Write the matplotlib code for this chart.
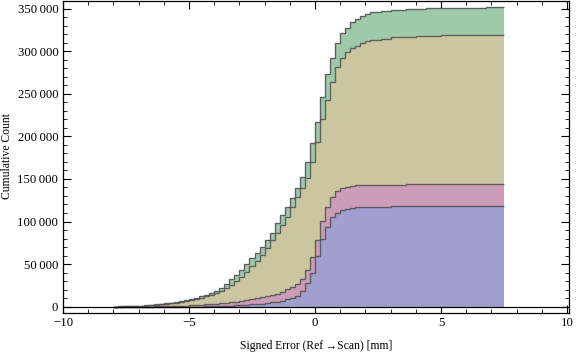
import numpy as np
import matplotlib
matplotlib.use("Agg")
import matplotlib.pyplot as plt
from matplotlib.ticker import MultipleLocator, FuncFormatter

# Histogram bins: width 0.2 mm starting at -8.0; final edge at 7.5
bin_start = -8.0
bin_width = 0.2
last_edge = 7.5

# Cumulative (stacked) boundaries, one value per bin
blue_top = [0, 0, 0, 0, 0, 0, 0, 0, 0, 0,
            0, 0, 0, 0, 0, 50, 100, 200, 300, 450,
            600, 800, 1000, 1300, 1600, 1900, 2300, 2700, 3200, 3700,
            4300, 5000, 5800, 7000, 8500, 10500, 13000, 19000, 28000, 40000,
            60000, 80000, 94000, 104900, 110300, 113400, 115000, 115800, 116600, 116600,
            116600, 116600, 116600, 116600, 116600, 118100, 118100, 118100, 118100, 118100,
            118100, 118100, 118100, 118100, 118100, 118100, 118100, 118100, 118100, 118100,
            118100, 118100, 118100, 118100, 118100, 118100, 118100]
pink_top = [0, 0, 0, 0, 0, 50, 100, 200, 300, 450,
            600, 800, 1000, 1200, 1400, 1700, 2000, 2300, 2700, 3100,
            3600, 4100, 4700, 5300, 6000, 6800, 7700, 8700, 9800, 11000,
            12500, 14000, 14900, 16900, 20400, 23500, 26600, 32100, 43000, 57900,
            78200, 100500, 117300, 128300, 135700, 138900, 140800, 141900, 142700, 142700,
            142700, 142700, 142700, 142700, 142700, 142700, 142700, 142700, 143500, 143500,
            143500, 143500, 143500, 143500, 143500, 143500, 143500, 143500, 143500, 143500,
            143500, 143500, 143500, 143500, 143500, 143500, 143500]
tan_top = [0, 200, 400, 600, 800, 1000, 1300, 1700, 2200, 2800,
           3400, 4100, 4900, 5800, 6800, 7900, 9200, 10600, 12200, 14000,
           16000, 18500, 21500, 25500, 30000, 35000, 41000, 47500, 54000, 61000,
           68500, 78200, 86800, 95800, 105600, 117300, 128300, 138900, 150600, 170000,
           193500, 220000, 243000, 264000, 281000, 292500, 298400, 303100, 306200, 309000,
           311500, 313600, 313600, 314800, 314800, 316000, 316000, 316000, 316000, 316000,
           317200, 317200, 317200, 317200, 317200, 318400, 318400, 318400, 318400, 318400,
           318400, 318400, 318400, 318400, 318400, 318400, 318400]
green_top = [0, 300, 500, 700, 900, 1200, 1500, 2000, 2600, 3200,
             3900, 4700, 5600, 6600, 7700, 9000, 10500, 12000, 13800, 15800,
             18200, 21500, 26500, 32100, 37200, 43000, 50100, 56800, 62600, 69700,
             78200, 87000, 97800, 108000, 117300, 128000, 138900, 152500, 169400, 191700,
             217000, 246500, 273000, 292500, 309000, 320700, 327700, 333600, 338000, 341000,
             344000, 345700, 345700, 346800, 346800, 348000, 348000, 348000, 349600, 349600,
             349600, 349600, 351200, 351200, 351200, 351200, 351200, 351200, 351200, 351200,
             351200, 351200, 351200, 351200, 352300, 352300, 352300]

x_ticks = [-10, -5, 0, 5, 10]
y_ticks = [0, 50000, 100000, 150000, 200000, 250000, 300000, 350000]
x_label = "Signed Error (Ref\u2009\u2192Scan) [mm]"
y_label = "Cumulative Count"

layers = [blue_top, pink_top, tan_top, green_top]
colors = ["#a09fcf", "#cc9db9", "#cbc6a0", "#9fcaa9"]

n = len(blue_top)
edges = bin_start + bin_width * np.arange(n + 1)
edges[-1] = last_edge

plt.rcParams['font.family'] = ['Liberation Serif', 'DejaVu Serif']

fig = plt.figure(figsize=(5.76, 3.53), dpi=100)
ax = fig.add_axes([62.5 / 576, 1 - 312.5 / 353, (569 - 62.5) / 576, (312.5 - 0.6) / 353])

base = np.zeros(n)
for vals, col in zip(layers, colors):
    v = np.asarray(vals, dtype=float)
    ax.stairs(v, edges, baseline=base, fill=True, color=col, lw=0, zorder=2)
    base = v
for vals in layers:
    ax.stairs(np.asarray(vals, dtype=float), edges, baseline=None, fill=False,
              color="#505050", lw=1.0, alpha=0.85, zorder=3)

ax.axhline(0, color="black", lw=0.9, zorder=4)

ax.set_xlim(-10.02, 10.08)
ax.set_ylim(-6800, 359300)
ax.set_xticks(x_ticks)
ax.set_yticks(y_ticks)
ax.xaxis.set_minor_locator(MultipleLocator(1))
ax.yaxis.set_minor_locator(MultipleLocator(10000))

def fmt_y(v, pos):
    v = int(round(v))
    if v >= 1000:
        return f"{v // 1000}\u2009{v % 1000:03d}"
    return str(v)

def fmt_x(v, pos):
    return f"\u2212{abs(int(v))}" if v < 0 else f"{int(v)}"

ax.yaxis.set_major_formatter(FuncFormatter(fmt_y))
ax.xaxis.set_major_formatter(FuncFormatter(fmt_x))

ax.tick_params(which="both", direction="in", top=True, right=True, color="black",
               labelsize=9.2, pad=3)
ax.tick_params(which="major", length=6, width=0.8)
ax.tick_params(which="minor", length=3, width=0.6)
for s in ax.spines.values():
    s.set_linewidth(0.9)

ax.set_xlabel(x_label, fontsize=8.4, labelpad=8)
fig.text(7.5 / 576, 1 - 156 / 353, y_label, rotation=90, fontsize=8.4,
         ha="center", va="center")

fig.savefig("out.png", dpi=100)
